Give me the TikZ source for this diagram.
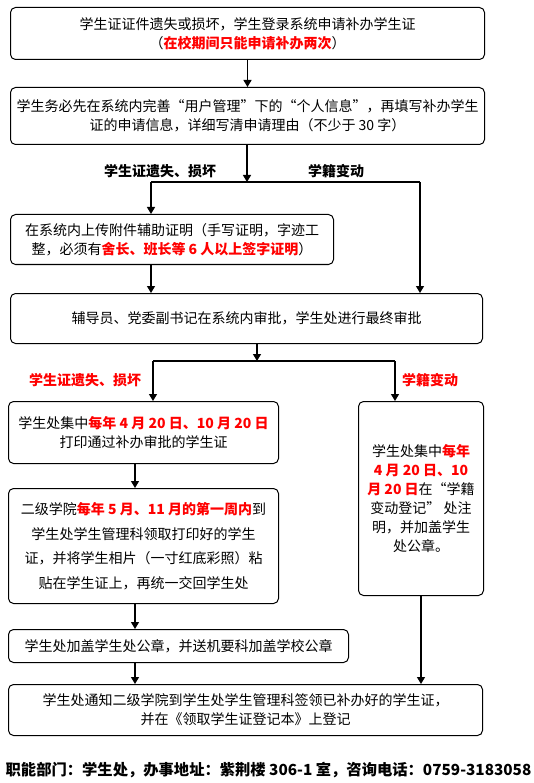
\documentclass[tikz,border=0pt]{standalone}
\usepackage{fontspec}
\setmainfont{Noto Sans CJK SC}
\usetikzlibrary{arrows.meta, positioning}
\newcommand{\redtxt}[1]{\textcolor{red}{\bfseries #1}}
\tikzset{
  stepbox/.style = {draw=black, line width=1pt, rounded corners=5pt,
                    align=center, inner sep=0pt,
                    font=\fontsize{14}{19}\selectfont},
  tag/.style     = {font=\fontsize{14}{17}\selectfont\bfseries, inner sep=0pt},
  redtag/.style  = {tag, text=red},
  flow/.style    = {-{Triangle[length=7pt, width=8pt]}, line width=1.2pt},
  link/.style    = {line width=1.2pt},
  foot/.style    = {font=\fontsize{15.3}{18}\selectfont\bfseries, inner sep=0pt},
}

\begin{document}
\begin{tikzpicture}[x=1pt, y=1pt]

  \fill[white] (0,0) rectangle (534,-783);
  \useasboundingbox (0,0) rectangle (534,-783);

  %% ---------------- application ----------------
  \node[stepbox, anchor=north west, minimum width=474pt, minimum height=52pt]
       (apply) at (10,-7)
       {学生证证件遗失或损坏，学生登录系统申请补办学生证\\（\redtxt{在校期间只能申请补办两次}）};
  \node[stepbox, below=27pt of apply.south west, anchor=north west,
        minimum width=474pt, minimum height=57pt] (info)
       {学生务必先在系统内完善“用户管理”下的“个人信息”，再填写补办学生\\证的申请信息，详细写清申请理由（不少于 30 字）};

  %% ---------------- first split ----------------
  \coordinate (split1) at (247,-182);
  \coordinate (lostA) at (151,-182);
  \coordinate (moveA) at (420,-182);
  \node[tag] (lostlbl) at (160,-171) {学生证遗失、损坏};
  \node[tag] (movelbl) at (336,-171) {学籍变动};

  \node[stepbox, below=69pt of info.south west, anchor=north west,
        minimum width=323pt, minimum height=50pt] (proof)
       {在系统内上传附件辅助证明（手写证明，字迹工\\整，必须有\redtxt{舍长、班长等 6 人以上签字证明}）};
  \node[stepbox, below=28pt of proof.south west, anchor=north west,
        minimum width=472pt, minimum height=50pt] (review)
       {辅导员、党委副书记在系统内审批，学生处进行最终审批};

  %% ---------------- second split ----------------
  \coordinate (split2) at (257,-361);
  \coordinate (lostB) at (153,-361);
  \coordinate (moveB) at (395,-361);
  \node[redtag] (lostred) at (85,-380) {学生证遗失、损坏};
  \node[redtag] (movered) at (430,-380) {学籍变动};

  \node[stepbox, below=57pt of review.south west, anchor=north west,
        xshift=-2pt, minimum width=270pt, minimum height=62pt] (print)
       {学生处集中\redtxt{每年 4 月 20 日、10 月 20 日}\\打印通过补办审批的学生证};
  \node[stepbox, below=24pt of print.south west, anchor=north west,
        minimum width=270pt, minimum height=115pt,
        font=\fontsize{14}{24.5}\selectfont] (collect)
       {二级学院\redtxt{每年 5 月、11 月的第一周内}到\\学生处学生管理科领取打印好的学生\\证，并将学生相片（一寸红底彩照）粘\\贴在学生证上，再统一交回学生处};
  \node[stepbox, below=25pt of collect.south west, anchor=north west,
        minimum width=340pt, minimum height=33pt] (seal)
       {学生处加盖学生处公章，并送机要科加盖学校公章};
  \node[stepbox, below=21pt of seal.south west, anchor=north west,
        minimum width=474pt, minimum height=51pt] (notify)
       {学生处通知二级学院到学生处学生管理科签领已补办好的学生证，\\并在《领取学生证登记本》上登记};

  \node[stepbox, right=79pt of print.north east, anchor=north west,
        minimum width=125pt, minimum height=194pt] (change)
       {学生处集中\redtxt{每年}\\\redtxt{4 月 20 日、10}\\\redtxt{月 20 日}在“学籍\\变动登记” 处注\\明，并加盖学生\\处公章。};

  \coordinate (spine) at (135,0);

  %% ---------------- edges ----------------
  \draw[flow] (apply.south) -- (info.north);
  \draw[flow] (split1 |- info.south) -- (split1);
  \draw[link] (lostA) -- (moveA);
  \draw[flow] (lostA) -- (lostA |- proof.north);
  \draw[flow] (moveA) -- (moveA |- review.north);
  \draw[flow] (lostA |- proof.south) -- (lostA |- review.north);

  \draw[flow] (split2 |- review.south) -- (split2);
  \draw[link] (lostB) -- (moveB);
  \draw[flow] (lostB) -- (lostB |- print.north);
  \draw[flow] (moveB) -- (moveB |- change.north);

  \draw[flow] (spine |- print.south) -- (spine |- collect.north);
  \draw[flow] (spine |- collect.south) -- (spine |- seal.north);
  \draw[flow] (spine |- seal.south) -- (spine |- notify.north);
  \draw[flow] (change.south) -- (change.south |- notify.north);

  %% ---------------- footer ----------------
  \node[foot] (footer) at (268.5,-770)
       {职能部门：学生处，办事地址：紫荆楼 306-1 室，咨询电话：0759-3183058};

\end{tikzpicture}
\end{document}
